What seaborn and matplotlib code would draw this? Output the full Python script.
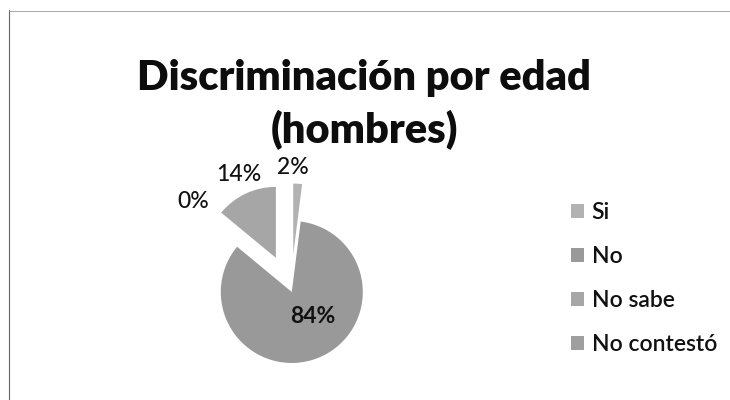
import matplotlib
matplotlib.use("Agg")
import matplotlib.pyplot as plt
from matplotlib.lines import Line2D
import seaborn as sns

# Survey answers: age discrimination, men
categories = ["Si", "No", "No sabe", "No contestó"]
percentages = [2, 84, 14, 0]
title_lines = ["Discriminación por edad", "(hombres)"]

sns.set_theme(style="white")
plt.rcParams["font.family"] = ["Lato", "DejaVu Sans"]

colors = ["#b2b2b2", "#999999", "#a6a6a6", "#9f9f9f"]
explode = [0.5, 0.03, 0.5, 0.5]

W, H = 730, 400
fig = plt.figure(figsize=(W / 100, H / 100), dpi=100)
fig.patch.set_facecolor("white")

# pie centre and radius in figure pixels
cx, cy, r = 291, 110, 71
x0, x1, y0, y1 = 140, 460, 5, 270
ax = fig.add_axes([x0 / W, y0 / H, (x1 - x0) / W, (y1 - y0) / H])

wedges, autotexts = ax.pie(
    percentages,
    colors=colors,
    explode=explode,
    startangle=90,
    counterclock=False,
    autopct=lambda p: f"{p:.0f}%",
    wedgeprops=dict(linewidth=0),
    textprops=dict(fontsize=16.5, color="#111111", fontweight="medium"),
)[0::2]
ax.set_xlim((x0 - cx) / r, (x1 - cx) / r)
ax.set_ylim((y0 - cy) / r, (y1 - cy) / r)
ax.set_aspect("auto")
ax.axis("off")

# percentage label placement (data units around the pie)
label_pos = [(0.02, 1.72), (0.31, -0.38), (-0.73, 1.62), (-1.38, 1.24)]
for t, pos in zip(autotexts, label_pos):
    t.set_position(pos)
    t.set_ha("center")
    t.set_va("center")
autotexts[1].set_fontweight("bold")

for text, ypix in zip(title_lines, [78, 130]):
    fig.text(364 / W, 1 - ypix / H, text, ha="center", va="center",
             fontsize=30, fontweight="heavy", color="#0d0d0d")

handles = [plt.Rectangle((0, 0), 1, 1, facecolor=c, edgecolor="none") for c in colors]
leg = fig.legend(handles, categories, loc="upper left",
                 bbox_to_anchor=(562 / W, 1 - 193 / H), frameon=False,
                 fontsize=16.5, handlelength=0.55, handleheight=0.55,
                 handletextpad=0.35, labelspacing=1.0, borderaxespad=0)
for t in leg.get_texts():
    t.set_fontweight("semibold")
    t.set_color("#111111")

# thin frame on the left and top edges
fig.add_artist(Line2D([9 / W, 9 / W], [0, 1 - 10 / H], transform=fig.transFigure,
                      color="#666666", linewidth=0.8))
fig.add_artist(Line2D([9 / W, 1], [1 - 11 / H, 1 - 11 / H], transform=fig.transFigure,
                      color="#999999", linewidth=0.6))

fig.savefig("out.png", dpi=100, facecolor="white")
